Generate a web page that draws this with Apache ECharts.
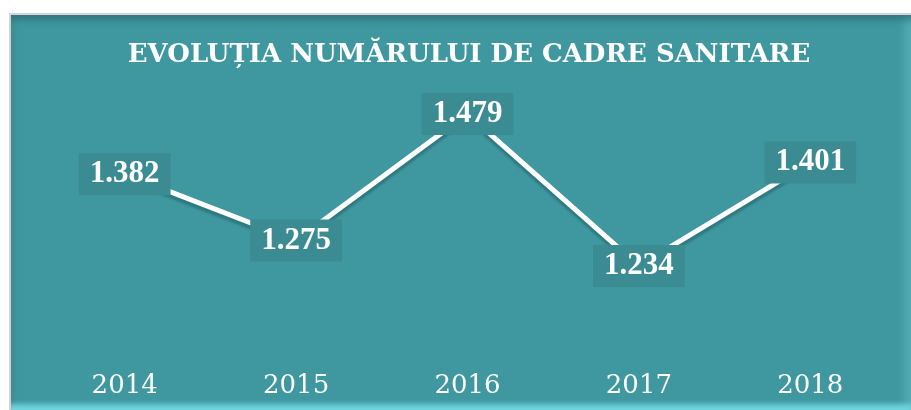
<!DOCTYPE html>
<html>
<head>
<meta charset="utf-8">
<script src="https://cdn.jsdelivr.net/npm/echarts@6/dist/echarts.min.js"></script>
<style>
  html, body { margin: 0; padding: 0; background: #fff; }
  .frame {
    position: absolute; left: 9px; top: 13px; width: 902px; height: 397px;
    box-sizing: border-box;
    border-left: 2px solid #d2d2d2; border-top: 2px solid #d6d6d6;
    background: #3f979f;
    box-shadow:
      inset 0 10px 7px -5px rgba(45, 110, 115, 0.75),
      inset 0 -11px 5px -5px #70d3de,
      inset 7px 0 6px -4px rgba(60, 140, 148, 0.9),
      inset -12px 0 8px -6px rgba(100, 190, 200, 0.6);
  }
  #chart { position: absolute; left: 0; top: 0; width: 911px; height: 410px; }
</style>
</head>
<body>
<div class="frame"></div>
<div id="chart"></div>
<script>
// date grafic
const years = ['2014', '2015', '2016', '2017', '2018']
const cadre = [1382, 1275, 1479, 1234, 1401]

const chart = echarts.init(document.getElementById('chart'), null, { renderer: 'canvas' })

const option = {
  backgroundColor: 'transparent',
  animation: false,
  title: {
    text: 'EVOLUȚIA NUMĂRULUI DE CADRE SANITARE',
    left: 464,
    textAlign: 'center',
    top: 37,
    textStyle: {
      color: '#ffffff',
      fontFamily: 'DejaVu Serif',
      fontWeight: 'bold',
      fontSize: 26
    }
  },
  grid: {
    left: 39,
    right: 15,
    top: 101,
    bottom: 61
  },
  xAxis: {
    type: 'category',
    data: years,
    boundaryGap: true,
    axisLine: { show: false },
    axisTick: { show: false },
    axisLabel: {
      color: '#ffffff',
      fontFamily: 'DejaVu Serif',
      fontSize: 26,
      margin: 24
    }
  },
  yAxis: {
    type: 'value',
    min: 1100,
    max: 1500,
    show: false,
    splitLine: { show: false }
  },
  series: [
    {
      name: 'Cadre sanitare',
      type: 'line',
      data: cadre,
      symbol: 'circle',
      symbolSize: 2,
      showSymbol: true,
      itemStyle: { color: '#ffffff' },
      lineStyle: {
        color: '#ffffff',
        width: 5,
        shadowColor: 'rgba(20, 70, 75, 0.35)',
        shadowOffsetY: 4,
        shadowBlur: 2
      },
      label: {
        show: true,
        position: 'inside',
        formatter: p => (p.value / 1000).toFixed(3),
        color: '#ffffff',
        fontFamily: 'Liberation Serif',
        fontWeight: 'bold',
        fontSize: 31,
        lineHeight: 31,
        backgroundColor: '#3a8b92',
        padding: [9, 11, 2, 11]
      }
    }
  ]
}

chart.setOption(option)
</script>
</body>
</html>
